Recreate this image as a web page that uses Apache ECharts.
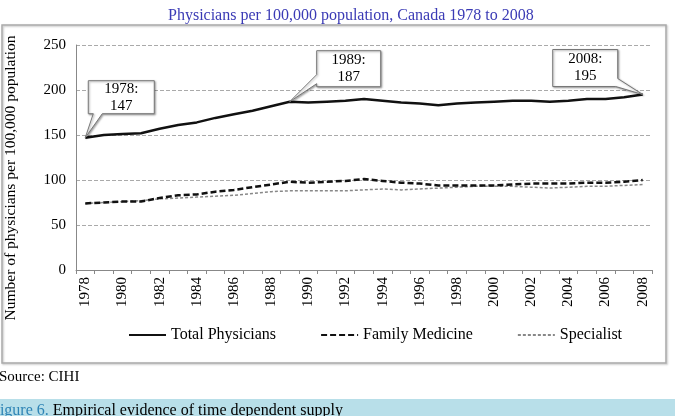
<!DOCTYPE html>
<html><head><meta charset="utf-8">
<script src="https://cdn.jsdelivr.net/npm/echarts@6/dist/echarts.min.js"></script>
<style>html,body{margin:0;padding:0;background:#fff}#c{width:675px;height:416px}</style>
</head><body><div id="c"></div>
<script>
const years = ['1978','1979','1980','1981','1982','1983','1984','1985','1986','1987','1988','1989','1990','1991','1992','1993','1994','1995','1996','1997','1998','1999','2000','2001','2002','2003','2004','2005','2006','2007','2008'];
const totalPhysicians = [147,150,151,152,157,161,164,169,173,177,182,187,186,187,188,190,188,186,185,183,185,186,187,188,188,187,188,190,190,192,195];
const familyMedicine = [74,75,76,76,80,83,84,87,89,92,95,98,97,98,99,101,99,97,96,94,94,94,94,95,96,96,96,97,97,98,100];
const specialist = [74,75,76,77,79,80,81,82,83,85,87,88,88,88,88,89,90,89,90,91,92,93,93,93,92,91,92,93,93,94,95];
const yTicks = [0,50,100,150,200,250];
const callouts = [
  {year:'1978', value:147, label:'1978:\n147'},
  {year:'1989', value:187, label:'1989:\n187'},
  {year:'2008', value:195, label:'2008:\n195'}
];
const serif = '"Liberation Serif","Times New Roman",serif';
const chart = echarts.init(document.getElementById('c'));
chart.setOption({
  animation:false,
  backgroundColor:'#fff',
  title:{text:'Physicians per 100,000 population, Canada 1978 to 2008',left:163,top:3,
    textStyle:{fontFamily:serif,fontSize:16,fontWeight:'normal',color:'#3a3ab5'}},
  grid:{left:76,right:23,top:45,bottom:146},
  legend:{top:322,left:123,itemWidth:37,itemHeight:10,itemGap:44,
    itemStyle:{opacity:0},
    textStyle:{fontFamily:serif,fontSize:16,color:'#000'},
    data:['Total Physicians','Family Medicine','Specialist']},
  xAxis:{type:'category',data:years,boundaryGap:true,
    axisLine:{lineStyle:{color:'#888'}},
    axisTick:{show:true,interval:0,length:4,lineStyle:{color:'#888'}},
    axisLabel:{interval:1,rotate:90,fontFamily:serif,fontSize:15,color:'#000',margin:7}},
  yAxis:{type:'value',min:yTicks[0],max:yTicks[yTicks.length-1],interval:50,
    axisLine:{show:true,lineStyle:{color:'#888'}},
    axisTick:{show:false},
    axisLabel:{fontFamily:serif,fontSize:15,color:'#000',margin:10},
    splitLine:{lineStyle:{color:'#aaa',type:[4,2],width:1}}},
  series:[
    {name:'Total Physicians',type:'line',data:totalPhysicians,symbol:'none',
      lineStyle:{color:'#111',width:2.5},itemStyle:{color:'#111'},z:3},
    {name:'Family Medicine',type:'line',data:familyMedicine,symbol:'none',
      lineStyle:{color:'#111',width:2.5,type:[6,3]},itemStyle:{color:'#111'},z:2},
    {name:'Specialist',type:'line',data:specialist,symbol:'none',
      lineStyle:{color:'#888',width:1.5,type:[3,2]},itemStyle:{color:'#888'},z:1}
  ]
});

const boxDefs = {
  '1978': function(p){const L=p[0]+3,R=p[0]+69,T=p[1]-57,B=p[1]-24;
    return {pts:[[L,T],[R,T],[R,B],[L+14,B],p,[L+5,B],[L,B]],cx:(L+R)/2,cy:(T+B)/2};},
  '1989': function(p){const L=p[0]+27,R=p[0]+91,T=p[1]-51,B=p[1]-15;
    return {pts:[[L,T],[R,T],[R,B],[L,B],[L,B-3],p,[L,B-12]],cx:(L+R)/2,cy:(T+B)/2};},
  '2008': function(p){const L=p[0]-90,R=p[0]-25,T=p[1]-45,B=p[1]-8;
    return {pts:[[L,T],[R,T],[R,B-8],p,[R-2,B],[L,B]],cx:(L+R)/2,cy:(T+B)/2};}
};
const g = [
  {type:'rect',z:-10,shape:{x:2,y:25,width:664,height:338},
    style:{fill:'none',stroke:'#aaa',lineWidth:1.5,shadowBlur:2,shadowOffsetX:1,shadowOffsetY:1,shadowColor:'rgba(0,0,0,0.25)'}},
  {type:'text',x:11,y:178,rotation:Math.PI/2,
    style:{text:'Number of physicians per 100,000 population',align:'center',verticalAlign:'middle',
      fontFamily:serif,fontSize:15.5,fill:'#000'}},
  {type:'text',left:-1,top:370,style:{text:'Source: CIHI',fontFamily:serif,fontSize:15,fill:'#000'}},
  {type:'rect',z:-10,shape:{x:0,y:399,width:675,height:17},style:{fill:'#b8dfe9'}},
  {type:'text',left:-9,top:403,style:{text:'{b|Figure 6.} Empirical evidence of time dependent supply',
    fontFamily:serif,fontSize:16,fill:'#000',rich:{b:{fill:'#2e84b5',fontFamily:serif,fontSize:16}}}}
];
callouts.forEach(function(c){
  const p = chart.convertToPixel({gridIndex:0},[c.year,c.value]);
  const d = boxDefs[c.year](p);
  g.push({type:'polygon',z:100,shape:{points:d.pts},
    style:{fill:'#fff',stroke:'#777',lineWidth:1,shadowBlur:2,shadowOffsetX:1,shadowOffsetY:1,shadowColor:'rgba(0,0,0,0.35)'}});
  g.push({type:'text',z:101,x:d.cx,y:d.cy,style:{text:c.label,align:'center',verticalAlign:'middle',
    fontFamily:serif,fontSize:15,lineHeight:17,fill:'#000'}});
});
chart.setOption({graphic:g});
</script></body></html>
